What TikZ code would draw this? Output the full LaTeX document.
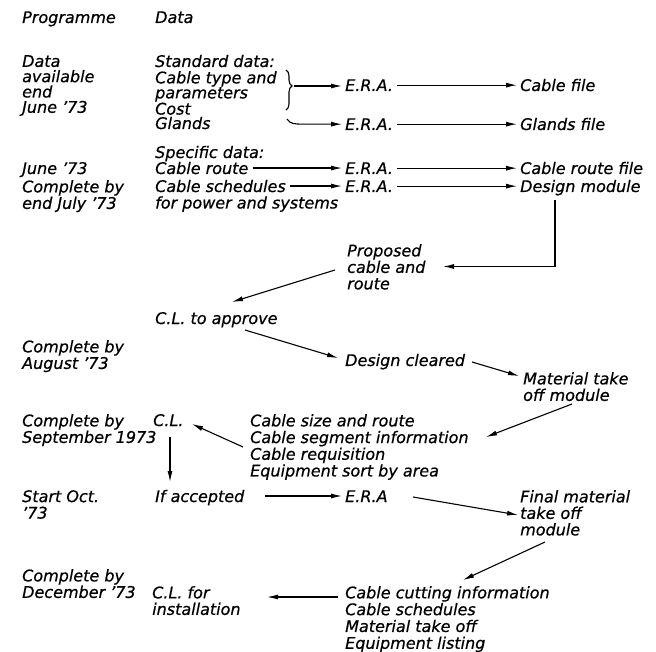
\documentclass[tikz,border=0pt]{standalone}
\usepackage{fontspec}
\setmainfont{DejaVu Sans}[ItalicFeatures={FakeBold=0.6}]
\usetikzlibrary{arrows.meta,calc,decorations.pathreplacing}
\tikzset{pin/.style={-{Latex[length=11pt,width=5pt]}, line width=1.1pt},
  row/.style={pin, shorten <=4pt, shorten >=3pt},
  txt/.style={inner sep=0pt, anchor=base west, align=left, font=\fontsize{16}{#1}\selectfont\itshape},
  txt/.default=16.5,
  blk/.style={txt=#1, anchor=north west, yshift=12pt},
  blk/.default=16.5}

\begin{document}
\begin{tikzpicture}[x=1pt,y=-1pt]
  \useasboundingbox (0,0) rectangle (656,652);
  % headings
  \node[txt] (prog)  at (22,23)  {Programme};
  \node[txt] (datah) at (155,23) {Data};
  % standard data
  \node[blk=15.3] (avail) at (22,67) {Data\\available\\end\\June ’73};
  \node[txt] (std)   at (155,67) {Standard data:};
  \node[blk=15] (ctype) at (155,83) {Cable type and\\parameters\\Cost};
  \draw[line width=1.1pt, decorate, decoration={brace, amplitude=6pt, aspect=0.4}] (286,70) -- (286,110);
  \coordinate (bracetip) at (294,86);
  \node[txt] (era1)  at (345,91)  {E.R.A.};
  \node[txt] (cfile) at (520,91)  {Cable file};
  \draw[row, shorten <=0pt] (bracetip) -- (bracetip -| era1.west);
  \draw[row] (era1.east) -- (era1.east -| cfile.west);
  \node[txt] (glands) at (155,129) {Glands};
  \node[txt] (era2)  at (345,130) {E.R.A.};
  \node[txt] (gfile) at (520,130) {Glands file};
  \coordinate (ghook) at (287,119);
  \draw[row, shorten <=0pt] (ghook) .. controls ($(ghook)+(3,5)$) and ($(ghook)+(8,5)$) .. ($(ghook |- era2.west)+(15,0)$) -- (era2.west);
  \draw[row] (era2.east) -- (era2.east -| gfile.west);
  % specific data
  \node[txt] (spec)  at (155,158) {Specific data:};
  \node[txt] (jun)   at (22,174)  {June ’73};
  \node[txt] (route) at (155,174) {Cable route};
  \node[txt] (era3)  at (345,174) {E.R.A.};
  \node[txt] (rfile) at (520,174) {Cable route file};
  \draw[row] (route.east) -- (route.east -| era3.west);
  \draw[row] (era3.east) -- (era3.east -| rfile.west);
  \node[blk] (jul)   at (22,192)  {Complete by\\end July ’73};
  \node[txt] (sched) at (155,192) {Cable schedules};
  \node[txt] (schedb) at (155,208.5) {for power and systems};
  \node[txt] (era4)  at (345,192) {E.R.A.};
  \node[txt] (design) at (520,192) {Design module};
  \draw[row] (sched.east) -- (sched.east -| era4.west);
  \draw[row] (era4.east) -- (era4.east -| design.west);
  % design loop
  \node[blk] (prop) at (347,256) {Proposed\\cable and\\route};
  \draw[pin] ($(design.base west)+(35,8)$) |- ($(prop.north west)+(96,22.5)$);
  \node[txt] (approve) at (155,324) {C.L. to approve};
  \draw[pin] ($(prop.north west)+(-12,26)$) -- ($(approve.base west)+(77,-22)$);
  \node[blk] (aug) at (22,352) {Complete by\\August ’73};
  \node[txt] (clear) at (345,366) {Design cleared};
  \draw[pin] ($(approve.base west)+(90,6)$) -- ($(clear.base west)+(-7,-8)$);
  \node[blk] (mto) at (523,384) {Material take\\off module};
  \draw[pin] ($(clear.base west)+(127,-4)$) -- ($(mto.north west)+(-4,4)$);
  % material take off
  \node[blk]  (sep)  at (22,426)  {Complete by\\September 1973};
  \node[txt]  (cl)   at (153,426) {C.L.};
  \node[blk=16.7] (size) at (250,426) {Cable size and route\\Cable segment information\\Cable requisition\\Equipment sort by area};
  \draw[pin] ($(mto.north west)+(49,32)$) -- ($(size.north west)+(236,23)$);
  \draw[pin] ($(size.north west)+(-7,33)$) -- ($(cl.base west)+(39,-2)$);
  \node[blk] (oct)    at (22,502)  {Start Oct.\\’73};
  \node[txt] (accept) at (155,502) {If accepted};
  \node[txt] (era5)   at (345,502) {E.R.A};
  \node[blk] (final)  at (520,502) {Final material\\take off\\module};
  \draw[pin] ($(cl.base west)+(17,11)$) -- ($(accept.base west)+(15,-20)$);
  \draw[pin] ($(accept.base west)+(110,-6)$) -- ($(era5.base west)+(-3,-6)$);
  \draw[pin] ($(era5.base west)+(68,-5)$) -- ($(final.north west)+(-2,25)$);
  % installation
  \node[blk] (dec)     at (22,581)  {Complete by\\December ’73};
  \node[blk] (install) at (152,598) {C.L. for\\installation};
  \node[blk=16.8] (cut) at (345,598) {Cable cutting information\\Cable schedules\\Material take off\\Equipment listing};
  \draw[pin] ($(final.north west)+(25,52)$) -- ($(cut.north west)+(118,-6)$);
  \draw[pin] ($(cut.north west)+(-7,11)$) -- ($(install.north west)+(115,11)$);
\end{tikzpicture}
\end{document}
